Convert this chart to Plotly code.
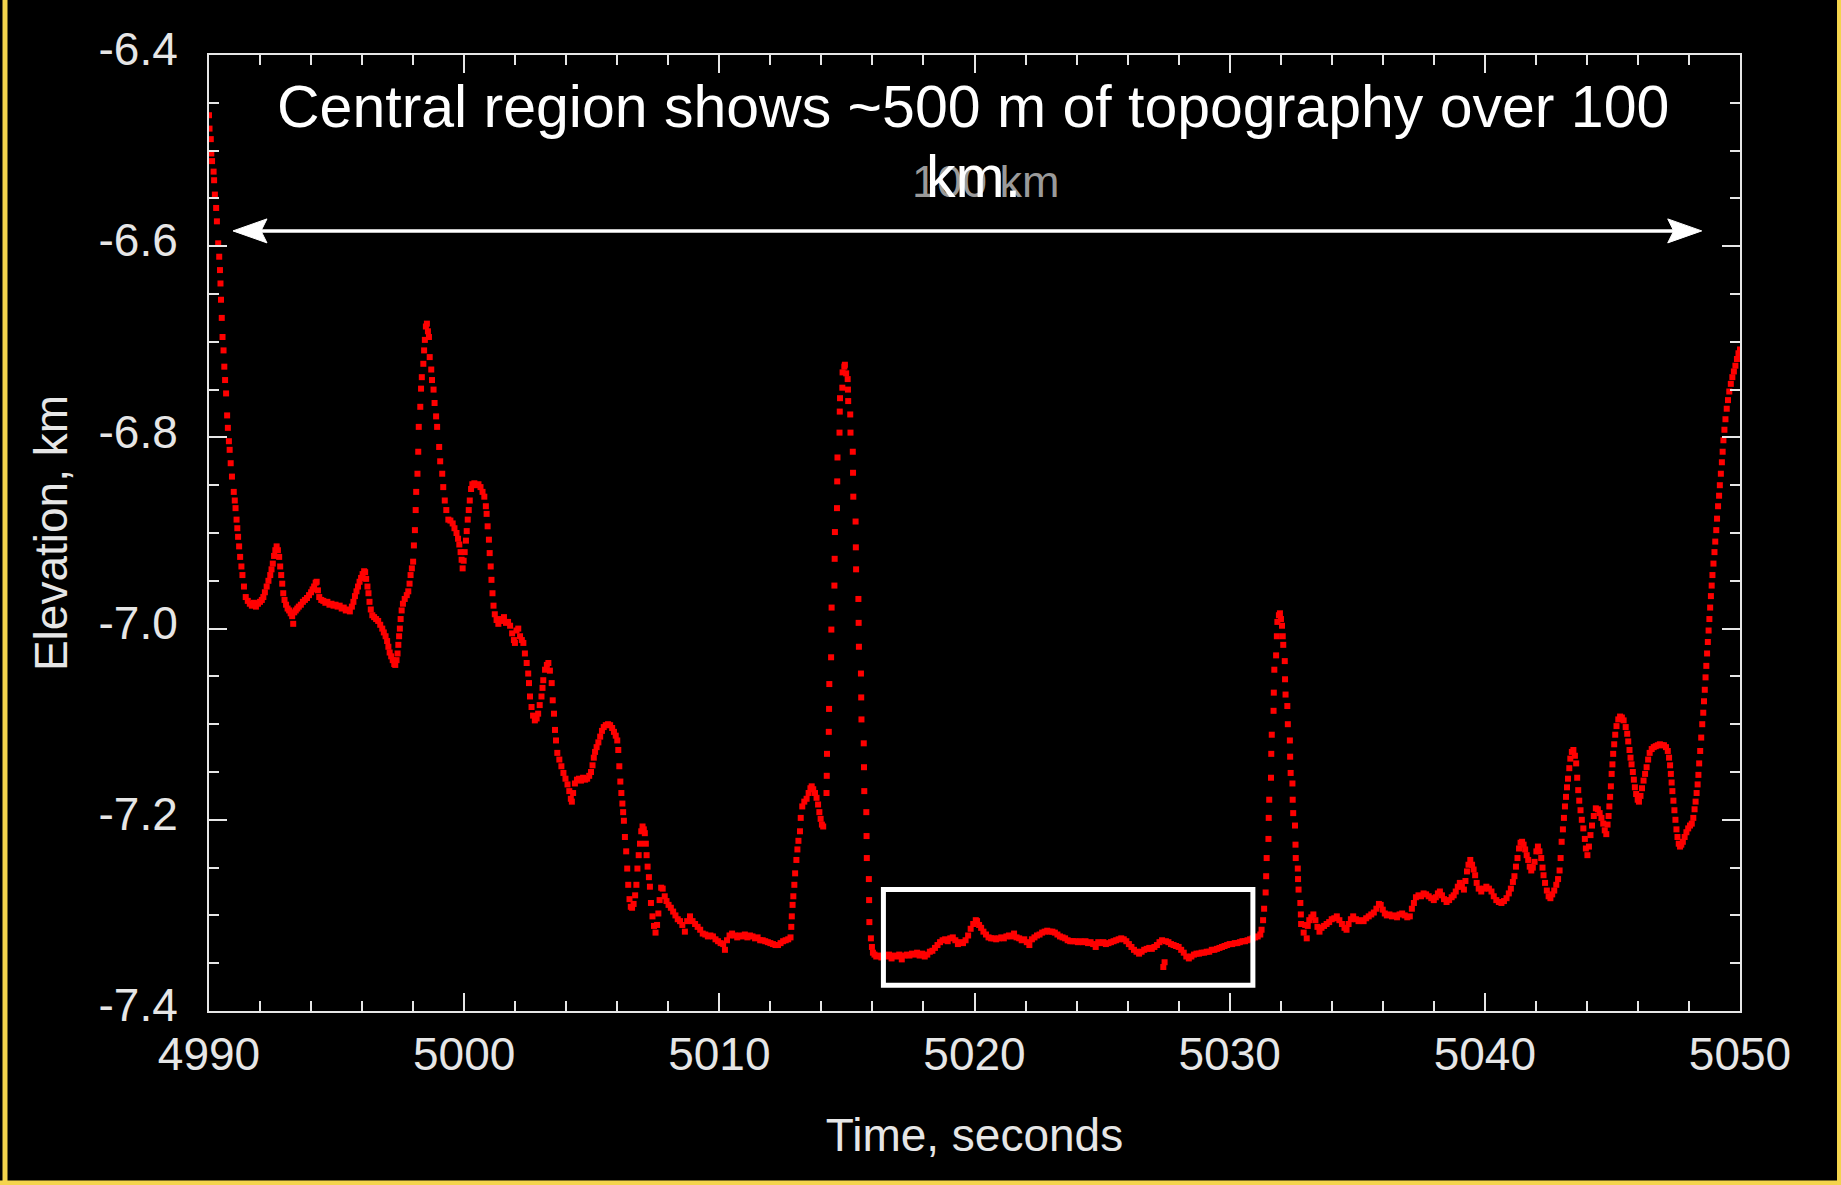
import plotly.graph_objects as go

# LOLA-style elevation profile (time in s, elevation in km)
t_west = [4990.00, 4990.02, 4990.07, 4990.09, 4990.12, 4990.18, 4990.20, 4990.23, 4990.28, 4990.31,
          4990.36, 4990.40, 4990.43, 4990.45, 4990.47, 4990.50, 4990.53, 4990.57, 4990.60, 4990.63,
          4990.67, 4990.71, 4990.74, 4990.78, 4990.81, 4990.85, 4990.90, 4990.97, 4991.01, 4991.04,
          4991.08, 4991.11, 4991.14, 4991.18, 4991.22, 4991.27, 4991.31, 4991.37, 4991.44, 4991.52,
          4991.60, 4991.68, 4991.76, 4991.84, 4991.92, 4992.00, 4992.07, 4992.13, 4992.19, 4992.26,
          4992.33, 4992.40, 4992.45, 4992.50, 4992.55, 4992.60, 4992.65, 4992.70, 4992.75, 4992.79,
          4992.83, 4992.87, 4992.91, 4992.96, 4993.02, 4993.08, 4993.14, 4993.20, 4993.26, 4993.30,
          4993.34, 4993.40, 4993.46, 4993.52, 4993.60, 4993.68, 4993.76, 4993.84, 4993.92, 4994.00,
          4994.06, 4994.12, 4994.18, 4994.22, 4994.27, 4994.32, 4994.40, 4994.48, 4994.56, 4994.64,
          4994.72, 4994.80, 4994.88, 4994.96, 4995.04, 4995.12, 4995.20, 4995.28, 4995.36, 4995.44,
          4995.52, 4995.60, 4995.66, 4995.72, 4995.78, 4995.84, 4995.90, 4995.96, 4996.02, 4996.08,
          4996.12, 4996.16, 4996.21, 4996.25, 4996.29, 4996.34, 4996.40, 4996.47, 4996.55, 4996.63,
          4996.71, 4996.79, 4996.85, 4996.92, 4996.98, 4997.03, 4997.08, 4997.14, 4997.20, 4997.26,
          4997.30, 4997.35, 4997.39, 4997.42, 4997.45, 4997.48, 4997.51, 4997.55, 4997.60, 4997.67,
          4997.75, 4997.81, 4997.86, 4997.90, 4997.95, 4998.00]
z_west = [-6.463, -6.477, -6.488, -6.503, -6.511, -6.522, -6.531, -6.546, -6.560, -6.574,
          -6.597, -6.611, -6.625, -6.639, -6.656, -6.675, -6.695, -6.709, -6.726, -6.740,
          -6.754, -6.777, -6.790, -6.804, -6.813, -6.827, -6.841, -6.857, -6.866, -6.874,
          -6.886, -6.895, -6.904, -6.914, -6.925, -6.935, -6.944, -6.956, -6.967, -6.971,
          -6.974, -6.976, -6.973, -6.977, -6.974, -6.972, -6.970, -6.967, -6.962, -6.956,
          -6.950, -6.944, -6.938, -6.932, -6.924, -6.918, -6.914, -6.918, -6.925, -6.935,
          -6.944, -6.953, -6.963, -6.970, -6.975, -6.979, -6.981, -6.984, -6.987, -6.995,
          -6.983, -6.981, -6.979, -6.977, -6.975, -6.972, -6.970, -6.968, -6.965, -6.962,
          -6.959, -6.956, -6.952, -6.951, -6.960, -6.967, -6.970, -6.971, -6.973, -6.972,
          -6.975, -6.974, -6.976, -6.975, -6.977, -6.976, -6.979, -6.978, -6.981, -6.980,
          -6.982, -6.977, -6.972, -6.966, -6.961, -6.956, -6.951, -6.947, -6.943, -6.940,
          -6.941, -6.948, -6.956, -6.963, -6.972, -6.980, -6.986, -6.988, -6.990, -6.992,
          -6.996, -7.000, -7.004, -7.008, -7.013, -7.019, -7.025, -7.029, -7.033, -7.037,
          -7.038, -7.033, -7.026, -7.017, -7.008, -7.000, -6.990, -6.981, -6.974, -6.969,
          -6.965, -6.961, -6.953, -6.944, -6.937, -6.930]

t_ridge = [4998.03, 4998.07, 4998.10, 4998.12, 4998.17, 4998.20, 4998.22, 4998.28, 4998.31, 4998.34,
           4998.40, 4998.43, 4998.46, 4998.50, 4998.54, 4998.58, 4998.62, 4998.65, 4998.71, 4998.74,
           4998.80, 4998.84, 4998.90, 4998.94, 4999.02, 4999.06, 4999.14, 4999.18, 4999.24, 4999.30,
           4999.38, 4999.46, 4999.55, 4999.62, 4999.70, 4999.76, 4999.81, 4999.86, 4999.90, 4999.94,
           4999.98, 5000.02, 5000.07, 5000.10, 5000.14, 5000.18, 5000.22, 5000.27, 5000.32, 5000.40,
           5000.48, 5000.56, 5000.64, 5000.72, 5000.79, 5000.85, 5000.88, 5000.92, 5000.97, 5001.00,
           5001.04, 5001.07, 5001.11, 5001.15, 5001.20, 5001.27, 5001.34, 5001.40, 5001.48, 5001.56,
           5001.64, 5001.72, 5001.80, 5001.88, 5001.95, 5001.99, 5002.05, 5002.12, 5002.19, 5002.26,
           5002.32, 5002.38, 5002.45, 5002.51, 5002.54, 5002.58, 5002.64, 5002.70, 5002.77, 5002.84,
           5002.90, 5002.96, 5003.03, 5003.07, 5003.10, 5003.17, 5003.24, 5003.30, 5003.36, 5003.43,
           5003.47, 5003.52, 5003.56, 5003.60, 5003.65, 5003.73, 5003.81, 5003.89, 5003.97, 5004.05,
           5004.12, 5004.18, 5004.22, 5004.27, 5004.34, 5004.42, 5004.50, 5004.58, 5004.66, 5004.74,
           5004.82, 5004.90, 5004.97, 5005.03, 5005.08, 5005.13, 5005.19, 5005.26, 5005.33, 5005.40,
           5005.47, 5005.55, 5005.64, 5005.72, 5005.80, 5005.87, 5005.94, 5006.00, 5006.04, 5006.08,
           5006.12, 5006.16, 5006.20, 5006.23, 5006.26, 5006.30, 5006.35, 5006.39, 5006.43, 5006.48,
           5006.53, 5006.58, 5006.64, 5006.70, 5006.75, 5006.79, 5006.84, 5006.89, 5006.94, 5006.99,
           5007.04, 5007.08, 5007.12, 5007.15, 5007.19, 5007.24, 5007.28, 5007.32, 5007.38, 5007.44,
           5007.50, 5007.56, 5007.61, 5007.66, 5007.72, 5007.78, 5007.86, 5007.93, 5008.01]
z_ridge = [-6.913, -6.897, -6.876, -6.857, -6.838, -6.815, -6.789, -6.768, -6.749, -6.737,
           -6.723, -6.709, -6.698, -6.684, -6.681, -6.689, -6.695, -6.716, -6.729, -6.740,
           -6.750, -6.764, -6.778, -6.789, -6.810, -6.825, -6.838, -6.852, -6.866, -6.876,
           -6.886, -6.887, -6.890, -6.895, -6.900, -6.906, -6.912, -6.920, -6.928, -6.937,
           -6.929, -6.920, -6.908, -6.898, -6.886, -6.876, -6.866, -6.854, -6.849, -6.848,
           -6.850, -6.849, -6.852, -6.857, -6.862, -6.872, -6.880, -6.893, -6.907, -6.921,
           -6.935, -6.949, -6.963, -6.976, -6.985, -6.991, -6.995, -6.990, -6.992, -6.988,
           -6.994, -6.993, -6.997, -7.005, -7.012, -7.015, -7.002, -7.000, -7.008, -7.012,
           -7.015, -7.026, -7.036, -7.047, -7.057, -7.071, -7.082, -7.091, -7.096, -7.094,
           -7.089, -7.080, -7.071, -7.062, -7.054, -7.043, -7.038, -7.036, -7.044, -7.057,
           -7.075, -7.089, -7.106, -7.117, -7.130, -7.137, -7.144, -7.151, -7.157, -7.163,
           -7.170, -7.178, -7.181, -7.172, -7.162, -7.158, -7.157, -7.159, -7.156, -7.158,
           -7.157, -7.154, -7.150, -7.143, -7.135, -7.129, -7.124, -7.119, -7.113, -7.107,
           -7.103, -7.101, -7.100, -7.101, -7.104, -7.108, -7.112, -7.117, -7.127, -7.144,
           -7.160, -7.172, -7.183, -7.192, -7.201, -7.218, -7.233, -7.251, -7.268, -7.283,
           -7.291, -7.292, -7.288, -7.279, -7.268, -7.251, -7.237, -7.225, -7.212, -7.207,
           -7.210, -7.214, -7.225, -7.237, -7.249, -7.260, -7.270, -7.287, -7.301, -7.311,
           -7.318, -7.310, -7.298, -7.284, -7.271, -7.272, -7.280, -7.285, -7.289]

t_peak = [5008.10, 5008.19, 5008.28, 5008.37, 5008.46, 5008.55, 5008.65, 5008.74, 5008.85, 5008.95,
          5009.05, 5009.15, 5009.25, 5009.35, 5009.45, 5009.55, 5009.65, 5009.75, 5009.85, 5009.95,
          5010.05, 5010.15, 5010.22, 5010.30, 5010.40, 5010.50, 5010.60, 5010.70, 5010.80, 5010.90,
          5011.00, 5011.10, 5011.20, 5011.30, 5011.40, 5011.50, 5011.60, 5011.70, 5011.80, 5011.90,
          5012.00, 5012.10, 5012.20, 5012.30, 5012.40, 5012.50, 5012.60, 5012.70, 5012.79, 5012.82,
          5012.84, 5012.87, 5012.90, 5012.94, 5012.97, 5013.02, 5013.06, 5013.10, 5013.16, 5013.19,
          5013.25, 5013.33, 5013.42, 5013.50, 5013.57, 5013.62, 5013.68, 5013.75, 5013.81, 5013.87,
          5013.92, 5013.97, 5014.02, 5014.07, 5014.20, 5014.21, 5014.22, 5014.29, 5014.30, 5014.31,
          5014.38, 5014.39, 5014.40, 5014.51, 5014.52, 5014.53, 5014.61, 5014.62, 5014.63, 5014.71,
          5014.72, 5014.73, 5014.82, 5014.83, 5014.90, 5014.92, 5014.97, 5015.03, 5015.04, 5015.05,
          5015.13, 5015.14, 5015.23, 5015.24, 5015.25, 5015.34, 5015.35, 5015.36, 5015.45, 5015.46,
          5015.47, 5015.55, 5015.56, 5015.57, 5015.66, 5015.67, 5015.68, 5015.76, 5015.77, 5015.78,
          5015.86, 5015.87, 5015.88, 5015.94, 5015.98, 5016.02, 5016.08]
z_peak = [-7.292, -7.296, -7.300, -7.304, -7.306, -7.310, -7.317, -7.306, -7.301, -7.306,
          -7.309, -7.312, -7.315, -7.319, -7.320, -7.322, -7.321, -7.322, -7.325, -7.327,
          -7.329, -7.330, -7.336, -7.326, -7.321, -7.319, -7.321, -7.323, -7.321, -7.322,
          -7.320, -7.323, -7.321, -7.322, -7.324, -7.323, -7.326, -7.326, -7.327, -7.328,
          -7.329, -7.330, -7.331, -7.331, -7.329, -7.327, -7.326, -7.325, -7.323, -7.312,
          -7.301, -7.289, -7.280, -7.268, -7.256, -7.242, -7.231, -7.222, -7.212, -7.198,
          -7.186, -7.181, -7.178, -7.172, -7.167, -7.165, -7.168, -7.172, -7.177, -7.184,
          -7.192, -7.199, -7.205, -7.207, -7.172, -7.154, -7.131, -7.108, -7.084, -7.058,
          -7.030, -7.001, -6.978, -6.955, -6.927, -6.899, -6.874, -6.846, -6.821, -6.795,
          -6.773, -6.759, -6.748, -6.732, -6.726, -6.724, -6.733, -6.739, -6.750, -6.762,
          -6.776, -6.795, -6.815, -6.837, -6.862, -6.888, -6.915, -6.938, -6.969, -6.994,
          -7.019, -7.047, -7.072, -7.095, -7.120, -7.145, -7.170, -7.192, -7.217, -7.240,
          -7.262, -7.284, -7.307, -7.324, -7.333, -7.339, -7.341]

t_floor = [5016.15, 5016.25, 5016.35, 5016.45, 5016.55, 5016.65, 5016.75, 5016.85, 5016.95, 5017.05,
           5017.15, 5017.25, 5017.35, 5017.45, 5017.55, 5017.65, 5017.75, 5017.85, 5017.95, 5018.05,
           5018.15, 5018.25, 5018.35, 5018.45, 5018.55, 5018.65, 5018.75, 5018.85, 5018.95, 5019.05,
           5019.15, 5019.25, 5019.35, 5019.45, 5019.55, 5019.65, 5019.75, 5019.85, 5019.95, 5020.05,
           5020.10, 5020.18, 5020.26, 5020.35, 5020.45, 5020.55, 5020.65, 5020.75, 5020.85, 5020.95,
           5021.05, 5021.15, 5021.25, 5021.35, 5021.45, 5021.55, 5021.65, 5021.75, 5021.85, 5021.95,
           5022.05, 5022.15, 5022.25, 5022.35, 5022.45, 5022.55, 5022.65, 5022.75, 5022.85, 5022.95,
           5023.05, 5023.15, 5023.25, 5023.35, 5023.45, 5023.55, 5023.65, 5023.75, 5023.85, 5023.95,
           5024.05, 5024.15, 5024.25, 5024.35, 5024.45, 5024.55, 5024.65, 5024.75, 5024.85, 5024.95,
           5025.05, 5025.15, 5025.25, 5025.35, 5025.45, 5025.55, 5025.65, 5025.75, 5025.85, 5025.95,
           5026.05, 5026.15, 5026.25, 5026.35, 5026.45, 5026.55, 5026.65, 5026.75, 5026.85, 5026.95,
           5027.05, 5027.15, 5027.25, 5027.35, 5027.40, 5027.45, 5027.50, 5027.60, 5027.70, 5027.80,
           5027.90, 5028.00, 5028.10, 5028.20, 5028.30, 5028.40, 5028.50, 5028.60, 5028.70, 5028.80,
           5028.90, 5029.00, 5029.10, 5029.20, 5029.30, 5029.40, 5029.50, 5029.60, 5029.70, 5029.80,
           5029.90, 5030.00, 5030.10, 5030.20, 5030.30, 5030.40, 5030.50, 5030.60, 5030.70, 5030.80,
           5030.90, 5031.00, 5031.10, 5031.20]
z_floor = [-7.343, -7.342, -7.344, -7.342, -7.343, -7.341, -7.345, -7.342, -7.343, -7.341,
           -7.346, -7.342, -7.341, -7.342, -7.340, -7.341, -7.339, -7.342, -7.340, -7.343,
           -7.341, -7.338, -7.337, -7.334, -7.331, -7.328, -7.326, -7.325, -7.327, -7.324,
           -7.323, -7.326, -7.330, -7.328, -7.329, -7.326, -7.321, -7.314, -7.309, -7.305,
           -7.306, -7.310, -7.313, -7.317, -7.320, -7.323, -7.324, -7.324, -7.325, -7.324,
           -7.323, -7.324, -7.322, -7.321, -7.322, -7.319, -7.323, -7.324, -7.326, -7.325,
           -7.328, -7.331, -7.325, -7.323, -7.321, -7.320, -7.318, -7.317, -7.316, -7.317,
           -7.317, -7.318, -7.320, -7.322, -7.323, -7.324, -7.326, -7.327, -7.327, -7.327,
           -7.328, -7.327, -7.328, -7.327, -7.329, -7.328, -7.330, -7.333, -7.328, -7.329,
           -7.328, -7.330, -7.329, -7.328, -7.327, -7.326, -7.325, -7.324, -7.325, -7.327,
           -7.330, -7.333, -7.336, -7.338, -7.340, -7.338, -7.336, -7.335, -7.334, -7.335,
           -7.333, -7.331, -7.328, -7.326, -7.354, -7.349, -7.327, -7.328, -7.330, -7.331,
           -7.332, -7.333, -7.336, -7.339, -7.343, -7.345, -7.343, -7.341, -7.340, -7.340,
           -7.339, -7.339, -7.338, -7.338, -7.336, -7.336, -7.335, -7.334, -7.333, -7.332,
           -7.331, -7.330, -7.330, -7.329, -7.329, -7.328, -7.327, -7.327, -7.326, -7.325,
           -7.324, -7.323, -7.322, -7.320]

t_east = [5031.25, 5031.31, 5031.35, 5031.41, 5031.43, 5031.45, 5031.52, 5031.53, 5031.55, 5031.62,
          5031.63, 5031.65, 5031.72, 5031.73, 5031.75, 5031.82, 5031.85, 5031.87, 5031.93, 5031.97,
          5032.01, 5032.05, 5032.08, 5032.10, 5032.16, 5032.17, 5032.19, 5032.26, 5032.28, 5032.36,
          5032.37, 5032.39, 5032.46, 5032.47, 5032.49, 5032.56, 5032.58, 5032.59, 5032.67, 5032.68,
          5032.70, 5032.77, 5032.79, 5032.80, 5032.90, 5032.96, 5033.02, 5033.06, 5033.12, 5033.20,
          5033.28, 5033.36, 5033.44, 5033.52, 5033.60, 5033.70, 5033.80, 5033.90, 5034.00, 5034.10,
          5034.20, 5034.30, 5034.40, 5034.50, 5034.58, 5034.66, 5034.75, 5034.84, 5034.95, 5035.05,
          5035.15, 5035.25, 5035.35, 5035.45, 5035.55, 5035.65, 5035.75, 5035.85, 5035.92, 5036.00,
          5036.08, 5036.16, 5036.26, 5036.36, 5036.46, 5036.56, 5036.66, 5036.76, 5036.86, 5036.96,
          5037.06, 5037.14, 5037.22, 5037.30, 5037.40, 5037.50, 5037.60, 5037.70, 5037.80, 5037.90,
          5038.00, 5038.08, 5038.16, 5038.24, 5038.32, 5038.40, 5038.50, 5038.60, 5038.70, 5038.78,
          5038.86, 5038.94, 5039.02, 5039.10, 5039.18, 5039.24, 5039.30, 5039.36, 5039.43, 5039.50,
          5039.56, 5039.62, 5039.68, 5039.76, 5039.86, 5039.96, 5040.06, 5040.16, 5040.26, 5040.35,
          5040.45, 5040.55, 5040.65, 5040.75, 5040.85, 5040.94, 5041.02, 5041.10, 5041.16, 5041.22,
          5041.28, 5041.34, 5041.40, 5041.46, 5041.52, 5041.58, 5041.64, 5041.70, 5041.76, 5041.82,
          5041.88, 5041.95, 5042.02, 5042.08, 5042.14, 5042.21, 5042.26, 5042.30, 5042.36, 5042.43,
          5042.50, 5042.57, 5042.64, 5042.72, 5042.80, 5042.87, 5042.93, 5042.97]
z_east = [-7.315, -7.305, -7.293, -7.276, -7.259, -7.240, -7.220, -7.198, -7.179, -7.156,
          -7.131, -7.111, -7.086, -7.067, -7.043, -7.028, -7.008, -6.993, -6.986, -6.984,
          -6.990, -6.997, -7.008, -7.017, -7.034, -7.053, -7.069, -7.081, -7.100, -7.117,
          -7.134, -7.151, -7.162, -7.179, -7.193, -7.206, -7.226, -7.240, -7.251, -7.262,
          -7.273, -7.287, -7.299, -7.309, -7.318, -7.310, -7.324, -7.311, -7.305, -7.302,
          -7.299, -7.305, -7.312, -7.317, -7.313, -7.311, -7.309, -7.307, -7.304, -7.303,
          -7.301, -7.305, -7.309, -7.313, -7.315, -7.309, -7.304, -7.301, -7.304, -7.306,
          -7.305, -7.306, -7.303, -7.301, -7.299, -7.297, -7.293, -7.288, -7.289, -7.294,
          -7.298, -7.300, -7.299, -7.301, -7.300, -7.302, -7.299, -7.298, -7.300, -7.302,
          -7.301, -7.293, -7.287, -7.281, -7.279, -7.280, -7.277, -7.278, -7.280, -7.282,
          -7.284, -7.281, -7.277, -7.275, -7.279, -7.283, -7.286, -7.284, -7.281, -7.279,
          -7.275, -7.270, -7.266, -7.270, -7.273, -7.264, -7.254, -7.247, -7.242, -7.247,
          -7.252, -7.258, -7.266, -7.272, -7.275, -7.272, -7.270, -7.272, -7.275, -7.280,
          -7.284, -7.286, -7.287, -7.285, -7.282, -7.277, -7.272, -7.265, -7.259, -7.249,
          -7.240, -7.230, -7.224, -7.223, -7.226, -7.231, -7.237, -7.242, -7.249, -7.253,
          -7.250, -7.244, -7.233, -7.228, -7.233, -7.240, -7.250, -7.258, -7.266, -7.274,
          -7.280, -7.282, -7.278, -7.274, -7.268, -7.262, -7.253, -7.240]

t_rim = [5043.01, 5043.06, 5043.10, 5043.14, 5043.18, 5043.22, 5043.26, 5043.31, 5043.35, 5043.41,
         5043.47, 5043.53, 5043.58, 5043.62, 5043.66, 5043.70, 5043.75, 5043.80, 5043.86, 5043.92,
         5043.96, 5044.02, 5044.08, 5044.14, 5044.20, 5044.27, 5044.35, 5044.43, 5044.50, 5044.57,
         5044.64, 5044.70, 5044.76, 5044.81, 5044.85, 5044.88, 5044.91, 5044.94, 5044.97, 5045.00,
         5045.03, 5045.07, 5045.11, 5045.16, 5045.23, 5045.30, 5045.37, 5045.44, 5045.52, 5045.58,
         5045.62, 5045.67, 5045.71, 5045.75, 5045.80, 5045.84, 5045.88, 5045.93, 5045.99, 5046.04,
         5046.10, 5046.16, 5046.22, 5046.28, 5046.34, 5046.40, 5046.46, 5046.54, 5046.62, 5046.70,
         5046.78, 5046.86, 5046.94, 5047.02, 5047.10, 5047.17, 5047.22, 5047.26, 5047.29, 5047.32,
         5047.35, 5047.39, 5047.43, 5047.47, 5047.51, 5047.55, 5047.60, 5047.65, 5047.70, 5047.76,
         5047.83, 5047.90, 5047.97, 5048.04, 5048.11, 5048.17, 5048.22, 5048.26, 5048.30, 5048.34,
         5048.37, 5048.40, 5048.44, 5048.48, 5048.52, 5048.56, 5048.59, 5048.62, 5048.65, 5048.68,
         5048.71, 5048.74, 5048.77, 5048.80, 5048.83, 5048.86, 5048.89, 5048.92, 5048.96, 5049.00,
         5049.03, 5049.07, 5049.10, 5049.14, 5049.18, 5049.21, 5049.25, 5049.29, 5049.32, 5049.35,
         5049.39, 5049.43, 5049.48, 5049.53, 5049.58, 5049.64, 5049.70, 5049.76, 5049.82, 5049.88,
         5049.94, 5050.00]
z_rim = [-7.223, -7.210, -7.198, -7.186, -7.176, -7.166, -7.157, -7.146, -7.136, -7.129,
         -7.127, -7.133, -7.141, -7.156, -7.169, -7.180, -7.190, -7.200, -7.209, -7.220,
         -7.230, -7.237, -7.228, -7.216, -7.206, -7.196, -7.188, -7.189, -7.193, -7.198,
         -7.204, -7.211, -7.215, -7.205, -7.196, -7.186, -7.176, -7.165, -7.152, -7.142,
         -7.131, -7.121, -7.111, -7.102, -7.095, -7.092, -7.093, -7.096, -7.103, -7.110,
         -7.118, -7.127, -7.135, -7.142, -7.150, -7.158, -7.166, -7.173, -7.179, -7.181,
         -7.175, -7.167, -7.159, -7.152, -7.145, -7.137, -7.130, -7.126, -7.124, -7.123,
         -7.122, -7.121, -7.122, -7.122, -7.124, -7.128, -7.135, -7.143, -7.152, -7.161,
         -7.170, -7.180, -7.190, -7.200, -7.210, -7.218, -7.225, -7.228, -7.226, -7.223,
         -7.218, -7.213, -7.209, -7.206, -7.204, -7.198, -7.189, -7.181, -7.172, -7.163,
         -7.153, -7.141, -7.128, -7.114, -7.100, -7.088, -7.076, -7.064, -7.051, -7.039,
         -7.026, -7.014, -7.002, -6.990, -6.978, -6.966, -6.955, -6.944, -6.932, -6.920,
         -6.909, -6.897, -6.885, -6.872, -6.861, -6.850, -6.838, -6.826, -6.815, -6.803,
         -6.792, -6.781, -6.770, -6.761, -6.752, -6.744, -6.737, -6.731, -6.725, -6.718,
         -6.712, -6.708]

time_s = t_west + t_ridge + t_peak + t_floor + t_east + t_rim
elev_km = z_west + z_ridge + z_peak + z_floor + z_east + z_rim

y_ticks = [-7.4, -7.2, -7.0, -6.8, -6.6, -6.4]
y_ticktext = ["-7.4", "-7.2", "-7.0", "-6.8", "-6.6", "-6.4"]
x_ticks = [4990, 5000, 5010, 5020, 5030, 5040, 5050]

# 100 km span arrow and the central-floor box
span_t = [4990.94, 5048.5]
span_z = -6.584
box_t = [5016.43, 5030.91]
box_z = [-7.373, -7.273]

W, H = 1841, 1185
ML, MR, MT, MB = 209, 101, 55, 174
PW, PH = W - ML - MR, H - MT - MB
AX = "#e6e6e6"
FONT = "Liberation Sans, Arial, sans-serif"


def px(x):
    return (x - ML) / PW


def py(y):
    return (H - MB - y) / PH


fig = go.Figure()
fig.add_trace(go.Scatter(x=time_s, y=elev_km, mode="markers",
                         marker=dict(symbol="square", size=6, color="#ff0000",
                                     line=dict(width=0)),
                         showlegend=False, hoverinfo="x+y"))

axis_common = dict(showline=True, linecolor=AX, linewidth=2, mirror="allticks",
                   ticks="inside", ticklen=18, tickwidth=2, tickcolor=AX,
                   showgrid=False, zeroline=False,
                   tickfont=dict(family=FONT, size=46, color=AX))

fig.update_xaxes(range=[4990, 5050], tickmode="array", tickvals=x_ticks,
                 minor=dict(tickmode="linear", tick0=4990, dtick=2, ticks="inside",
                            ticklen=10, tickwidth=2, tickcolor=AX),
                 ticklabelstandoff=2,
                 title=dict(text="Time, seconds", standoff=40,
                            font=dict(family=FONT, size=46, color=AX)),
                 **axis_common)
fig.update_yaxes(range=[-7.4, -6.4], tickmode="array", tickvals=y_ticks, ticktext=y_ticktext,
                 minor=dict(tickmode="linear", tick0=-7.4, dtick=0.05, ticks="inside",
                            ticklen=10, tickwidth=2, tickcolor=AX),
                 ticklabelstandoff=20, ticklabelshift=-6,
                 title=dict(text="Elevation, km", standoff=16,
                            font=dict(family=FONT, size=46, color=AX)),
                 **axis_common)

shapes = [
    dict(type="rect", xref="x", yref="y", x0=box_t[0], x1=box_t[1], y0=box_z[0], y1=box_z[1],
         line=dict(color="white", width=5)),
    dict(type="line", xref="x", yref="y", x0=span_t[0] + 0.6, x1=span_t[1] - 0.6,
         y0=span_z, y1=span_z, line=dict(color="white", width=3.5)),
    dict(type="path", xref="x", yref="y", xsizemode="pixel", ysizemode="pixel",
         xanchor=span_t[0], yanchor=span_z, path="M0,0 L34,12 L28,0 L34,-12 Z",
         fillcolor="white", line=dict(color="white", width=1)),
    dict(type="path", xref="x", yref="y", xsizemode="pixel", ysizemode="pixel",
         xanchor=span_t[1], yanchor=span_z, path="M0,0 L-34,12 L-28,0 L-34,-12 Z",
         fillcolor="white", line=dict(color="white", width=1)),
    # yellow slide frame
    dict(type="line", xref="paper", yref="paper", x0=px(5), x1=px(5), y0=py(0), y1=py(H),
         line=dict(color="#f4d44c", width=5)),
    dict(type="line", xref="paper", yref="paper", x0=px(W - 2), x1=px(W - 2), y0=py(0), y1=py(H),
         line=dict(color="#f4d44c", width=4)),
    dict(type="line", xref="paper", yref="paper", x0=px(0), x1=px(W), y0=py(H - 2), y1=py(H - 2),
         line=dict(color="#f4d44c", width=5)),
]

annotations = [
    dict(text="100 km", x=5020.45, y=-6.532, xref="x", yref="y", showarrow=False,
         font=dict(family=FONT, size=45, color="#9a9a9a"), xanchor="center", yanchor="middle"),
    dict(text="Central region shows ~500 m of topography over 100", x=5019.96, y=-6.454,
         xref="x", yref="y", showarrow=False,
         font=dict(family=FONT, size=59, color="white"), xanchor="center", yanchor="middle"),
    dict(text="km.", x=5019.96, y=-6.528, xref="x", yref="y", showarrow=False,
         font=dict(family=FONT, size=59, color="white"), xanchor="center", yanchor="middle"),
]

fig.update_layout(width=W, height=H, paper_bgcolor="black", plot_bgcolor="black",
                  margin=dict(l=ML, r=MR, t=MT, b=MB, autoexpand=False),
                  shapes=shapes, annotations=annotations, showlegend=False)

# drop the browser's default 8px body margin so the figure fills the window
fig.write_html("out.html", config={"displayModeBar": False},
               post_script="document.body.style.margin='0';")
